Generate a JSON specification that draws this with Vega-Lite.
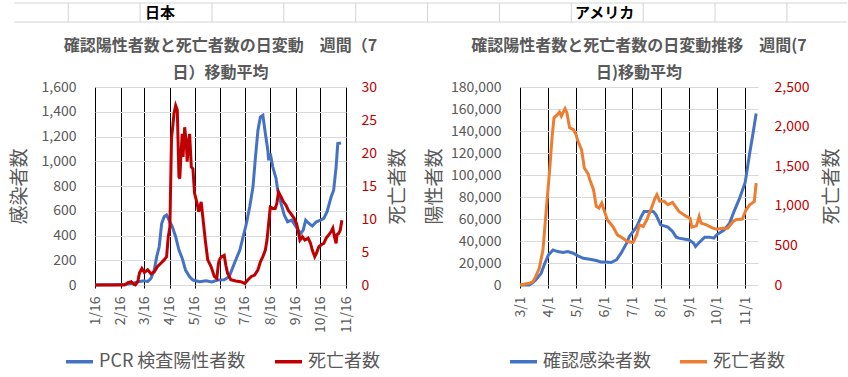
{
"$schema": "https://vega.github.io/schema/vega-lite/v6.json",
"background": "white",
"padding": {"left": 10, "top": 2, "right": 0, "bottom": 0},
"config": {
  "font": "Noto Sans CJK JP",
  "view": {"stroke": null},
  "axis": {"labelFont": "Noto Sans CJK JP", "titleFont": "Noto Sans CJK JP", "labelColor": "#595959", "labelFontSize": 14, "titleColor": "#595959", "titleFontSize": 19, "titleFontWeight": "normal", "domain": false, "ticks": false, "tickSize": 0},
  "axisX": {"labelOverlap": false, "labelAngle": 270, "labelBound": false, "labelFlush": false, "tickCount": 30},
  "title": {"font": "Noto Sans CJK JP", "fontSize": 16, "fontWeight": "bold", "color": "#595959", "lineHeight": 27},
  "legend": {"labelFont": "Noto Sans CJK JP", "labelFontSize": 18, "labelColor": "#595959", "symbolType": "stroke", "symbolStrokeWidth": 3.5, "symbolSize": 729, "columnPadding": 22, "labelOffset": 4, "title": null, "direction": "horizontal"}
},
"datasets": {
  "jpCases": [
    {"d":"2020/01/16","v":1},{"d":"2020/01/25","v":2},{"d":"2020/02/05","v":3},{"d":"2020/02/15","v":5},{"d":"2020/02/23","v":6},{"d":"2020/03/02","v":13},{"d":"2020/03/08","v":27},{"d":"2020/03/16","v":35},{"d":"2020/03/20","v":27},{"d":"2020/03/24","v":54},{"d":"2020/03/28","v":121},{"d":"2020/03/31","v":229},{"d":"2020/04/03","v":309},{"d":"2020/04/06","v":497},{"d":"2020/04/09","v":551},{"d":"2020/04/12","v":565},{"d":"2020/04/15","v":524},{"d":"2020/04/19","v":470},{"d":"2020/04/23","v":390},{"d":"2020/04/27","v":282},{"d":"2020/05/01","v":215},{"d":"2020/05/05","v":121},{"d":"2020/05/10","v":67},{"d":"2020/05/14","v":40},{"d":"2020/05/22","v":27},{"d":"2020/05/30","v":35},{"d":"2020/06/06","v":24},{"d":"2020/06/13","v":40},{"d":"2020/06/21","v":42},{"d":"2020/06/27","v":67},{"d":"2020/07/01","v":134},{"d":"2020/07/05","v":202},{"d":"2020/07/10","v":282},{"d":"2020/07/14","v":390},{"d":"2020/07/18","v":497},{"d":"2020/07/22","v":632},{"d":"2020/07/26","v":793},{"d":"2020/07/29","v":1035},{"d":"2020/08/01","v":1250},{"d":"2020/08/04","v":1358},{"d":"2020/08/07","v":1371},{"d":"2020/08/10","v":1224},{"d":"2020/08/13","v":1089},{"d":"2020/08/14","v":1008},{"d":"2020/08/16","v":1062},{"d":"2020/08/19","v":955},{"d":"2020/08/23","v":861},{"d":"2020/08/25","v":766},{"d":"2020/08/29","v":659},{"d":"2020/09/02","v":565},{"d":"2020/09/06","v":511},{"d":"2020/09/11","v":524},{"d":"2020/09/15","v":484},{"d":"2020/09/19","v":444},{"d":"2020/09/22","v":417},{"d":"2020/09/25","v":444},{"d":"2020/09/28","v":524},{"d":"2020/10/02","v":497},{"d":"2020/10/06","v":476},{"d":"2020/10/11","v":511},{"d":"2020/10/16","v":524},{"d":"2020/10/20","v":538},{"d":"2020/10/24","v":592},{"d":"2020/10/29","v":713},{"d":"2020/11/01","v":766},{"d":"2020/11/04","v":955},{"d":"2020/11/06","v":1143},{"d":"2020/11/10","v":1148}
  ],
  "jpDeaths": [
    {"d":"2020/01/16","v":0},{"d":"2020/02/16","v":0},{"d":"2020/02/21","v":0},{"d":"2020/02/25","v":0.35},{"d":"2020/02/29","v":0.5},{"d":"2020/03/03","v":0.1},{"d":"2020/03/05","v":0},{"d":"2020/03/08","v":0.5},{"d":"2020/03/10","v":1.8},{"d":"2020/03/13","v":2.5},{"d":"2020/03/16","v":1.9},{"d":"2020/03/20","v":2.3},{"d":"2020/03/24","v":1.7},{"d":"2020/03/28","v":2.0},{"d":"2020/04/01","v":2.8},{"d":"2020/04/05","v":3.3},{"d":"2020/04/09","v":3.8},{"d":"2020/04/12","v":4.3},{"d":"2020/04/14","v":7.3},{"d":"2020/04/16","v":8.8},{"d":"2020/04/18","v":22.4},{"d":"2020/04/19","v":23.4},{"d":"2020/04/21","v":26},{"d":"2020/04/23","v":27.2},{"d":"2020/04/25","v":26.5},{"d":"2020/04/27","v":16.4},{"d":"2020/04/28","v":16.1},{"d":"2020/04/30","v":20.9},{"d":"2020/05/01","v":22.9},{"d":"2020/05/02","v":19.4},{"d":"2020/05/04","v":23.9},{"d":"2020/05/06","v":21.4},{"d":"2020/05/07","v":18.7},{"d":"2020/05/09","v":21.9},{"d":"2020/05/10","v":22.9},{"d":"2020/05/12","v":17.9},{"d":"2020/05/14","v":17.6},{"d":"2020/05/16","v":13.9},{"d":"2020/05/19","v":12.4},{"d":"2020/05/21","v":11.1},{"d":"2020/05/24","v":12.6},{"d":"2020/05/26","v":10.3},{"d":"2020/05/29","v":6.8},{"d":"2020/06/01","v":3.8},{"d":"2020/06/05","v":2.8},{"d":"2020/06/09","v":1.3},{"d":"2020/06/12","v":1.0},{"d":"2020/06/14","v":3.3},{"d":"2020/06/16","v":4.0},{"d":"2020/06/18","v":4.3},{"d":"2020/06/21","v":4.5},{"d":"2020/06/23","v":3.0},{"d":"2020/06/25","v":1.8},{"d":"2020/06/29","v":0.8},{"d":"2020/07/05","v":0.6},{"d":"2020/07/11","v":0.5},{"d":"2020/07/16","v":0.25},{"d":"2020/07/20","v":0.8},{"d":"2020/07/24","v":1.3},{"d":"2020/07/28","v":1.5},{"d":"2020/08/01","v":2.3},{"d":"2020/08/04","v":3.5},{"d":"2020/08/07","v":4.3},{"d":"2020/08/10","v":5.3},{"d":"2020/08/12","v":6.8},{"d":"2020/08/14","v":9.3},{"d":"2020/08/16","v":11.8},{"d":"2020/08/19","v":11.6},{"d":"2020/08/22","v":11.6},{"d":"2020/08/24","v":12.4},{"d":"2020/08/26","v":14.1},{"d":"2020/08/29","v":13.4},{"d":"2020/09/01","v":12.6},{"d":"2020/09/04","v":12.1},{"d":"2020/09/07","v":11.3},{"d":"2020/09/10","v":10.8},{"d":"2020/09/14","v":10.1},{"d":"2020/09/17","v":9.3},{"d":"2020/09/19","v":8.1},{"d":"2020/09/21","v":6.8},{"d":"2020/09/24","v":7.3},{"d":"2020/09/27","v":6.8},{"d":"2020/10/01","v":7.1},{"d":"2020/10/04","v":6.3},{"d":"2020/10/06","v":5.3},{"d":"2020/10/09","v":4.3},{"d":"2020/10/11","v":4.8},{"d":"2020/10/14","v":5.8},{"d":"2020/10/17","v":6.1},{"d":"2020/10/20","v":6.3},{"d":"2020/10/23","v":7.1},{"d":"2020/10/26","v":7.6},{"d":"2020/10/29","v":8.1},{"d":"2020/10/31","v":8.6},{"d":"2020/11/02","v":7.3},{"d":"2020/11/04","v":6.3},{"d":"2020/11/05","v":7.6},{"d":"2020/11/07","v":7.8},{"d":"2020/11/09","v":8.3},{"d":"2020/11/11","v":9.8}
  ],
  "usCases": [
    {"d":"2020/03/01","v":0},{"d":"2020/03/11","v":0},{"d":"2020/03/15","v":2100},{"d":"2020/03/18","v":4600},{"d":"2020/03/24","v":10600},{"d":"2020/03/28","v":19800},{"d":"2020/04/01","v":27400},{"d":"2020/04/06","v":31900},{"d":"2020/04/11","v":30400},{"d":"2020/04/17","v":29500},{"d":"2020/04/22","v":30400},{"d":"2020/04/28","v":28900},{"d":"2020/05/03","v":26500},{"d":"2020/05/09","v":24300},{"d":"2020/05/16","v":23400},{"d":"2020/05/23","v":22200},{"d":"2020/05/28","v":21000},{"d":"2020/06/03","v":21000},{"d":"2020/06/08","v":20400},{"d":"2020/06/14","v":22800},{"d":"2020/06/19","v":28900},{"d":"2020/06/25","v":38000},{"d":"2020/06/28","v":44100},{"d":"2020/07/06","v":53000},{"d":"2020/07/11","v":62300},{"d":"2020/07/14","v":66900},{"d":"2020/07/24","v":66900},{"d":"2020/07/27","v":63800},{"d":"2020/08/01","v":54700},{"d":"2020/08/09","v":52600},{"d":"2020/08/14","v":48600},{"d":"2020/08/18","v":43500},{"d":"2020/08/21","v":42600},{"d":"2020/09/01","v":41000},{"d":"2020/09/06","v":38000},{"d":"2020/09/08","v":35000},{"d":"2020/09/12","v":38600},{"d":"2020/09/18","v":43500},{"d":"2020/09/23","v":43500},{"d":"2020/09/28","v":42600},{"d":"2020/10/01","v":45600},{"d":"2020/10/09","v":50000},{"d":"2020/10/15","v":56000},{"d":"2020/10/20","v":67000},{"d":"2020/10/26","v":79000},{"d":"2020/11/01","v":93000},{"d":"2020/11/06","v":120000},{"d":"2020/11/10","v":140000},{"d":"2020/11/13","v":156000}
  ],
  "usDeaths": [
    {"d":"2020/03/01","v":0},{"d":"2020/03/11","v":21},{"d":"2020/03/15","v":42},{"d":"2020/03/18","v":106},{"d":"2020/03/22","v":211},{"d":"2020/03/26","v":443},{"d":"2020/03/29","v":866},{"d":"2020/04/02","v":1415},{"d":"2020/04/05","v":1880},{"d":"2020/04/07","v":2111},{"d":"2020/04/11","v":2154},{"d":"2020/04/13","v":2183},{"d":"2020/04/15","v":2133},{"d":"2020/04/17","v":2183},{"d":"2020/04/19","v":2226},{"d":"2020/04/21","v":2175},{"d":"2020/04/24","v":1985},{"d":"2020/04/28","v":1964},{"d":"2020/05/01","v":1900},{"d":"2020/05/03","v":1816},{"d":"2020/05/07","v":1710},{"d":"2020/05/10","v":1478},{"d":"2020/05/14","v":1406},{"d":"2020/05/16","v":1330},{"d":"2020/05/20","v":1204},{"d":"2020/05/23","v":993},{"d":"2020/05/26","v":971},{"d":"2020/05/29","v":1035},{"d":"2020/06/01","v":929},{"d":"2020/06/04","v":823},{"d":"2020/06/10","v":739},{"d":"2020/06/15","v":633},{"d":"2020/06/21","v":591},{"d":"2020/06/26","v":549},{"d":"2020/07/02","v":536},{"d":"2020/07/06","v":633},{"d":"2020/07/09","v":760},{"d":"2020/07/13","v":739},{"d":"2020/07/17","v":823},{"d":"2020/07/22","v":971},{"d":"2020/07/26","v":1098},{"d":"2020/07/28","v":1140},{"d":"2020/07/31","v":1056},{"d":"2020/08/05","v":1056},{"d":"2020/08/09","v":1013},{"d":"2020/08/14","v":1043},{"d":"2020/08/21","v":929},{"d":"2020/08/29","v":866},{"d":"2020/09/02","v":845},{"d":"2020/09/04","v":731},{"d":"2020/09/09","v":747},{"d":"2020/09/12","v":866},{"d":"2020/09/14","v":781},{"d":"2020/09/20","v":760},{"d":"2020/09/23","v":739},{"d":"2020/09/27","v":718},{"d":"2020/10/01","v":705},{"d":"2020/10/08","v":718},{"d":"2020/10/13","v":718},{"d":"2020/10/19","v":802},{"d":"2020/10/22","v":823},{"d":"2020/10/29","v":832},{"d":"2020/11/02","v":950},{"d":"2020/11/06","v":1013},{"d":"2020/11/11","v":1056},{"d":"2020/11/13","v":1288}
  ]
},
"spacing": 15,
"vconcat": [
  {
    "width": 752, "height": 19,
    "layer": [
      {"data": {"values": [{"c":1},{"c":2},{"c":3},{"c":4},{"c":5},{"c":6},{"c":7},{"c":8},{"c":9},{"c":10},{"c":11}]},
       "mark": {"type": "rule", "color": "#d4d4d4", "strokeWidth": 1},
       "encoding": {"x": {"field": "c", "type": "quantitative", "scale": {"domain": [1.3727, 11.836], "nice": false, "zero": false}, "axis": null},
                    "y": {"datum": 0, "type": "quantitative", "scale": {"domain": [0, 1], "nice": false, "zero": false}, "axis": null},
                    "y2": {"datum": 1}}},
      {"data": {"values": [{"a": 0.25, "b": 11.836, "r": 0}, {"a": 0.25, "b": 11.836, "r": 1}]},
       "mark": {"type": "rule", "color": "#d4d4d4", "strokeWidth": 1},
       "encoding": {"x": {"field": "a", "type": "quantitative"}, "x2": {"field": "b"}, "y": {"field": "r", "type": "quantitative"}}},
      {"data": {"values": [{"c": 2.07, "t": "日本"}, {"c": 8.05, "t": "アメリカ"}]},
       "mark": {"type": "text", "align": "left", "baseline": "middle", "fontSize": 15, "fontWeight": "bold", "color": "black", "font": "Noto Sans CJK JP"},
       "encoding": {"x": {"field": "c", "type": "quantitative"}, "y": {"datum": 0.5, "type": "quantitative"}, "text": {"field": "t", "type": "nominal"}}}
    ]
  },
  {
    "spacing": 17,
    "resolve": {"scale": {"color": "independent"}},
    "hconcat": [
      {
        "width": 251, "height": 198,
        "title": {"text": ["確認陽性者数と死亡者数の日変動　週間（7", "日）移動平均"], "offset": -1},
        "resolve": {"scale": {"y": "independent"}},
        "layer": [
          {"data": {"name": "jpCases"},
           "mark": {"type": "line", "strokeWidth": 3},
           "encoding": {
             "x": {"field": "d", "type": "temporal",
                   "scale": {"domain": [{"year": 2020, "month": 1, "date": 16}, {"year": 2020, "month": 11, "date": 16}]},
                   "axis": {"title": null, "format": "%-m/%-d", "tickCount": 30, "grid": true, "gridColor": "black", "gridWidth": 1, "gridOpacity": 1, "ticks": true, "tickColor": "black", "tickSize": 3, "labelPadding": 8,
                            "values": [{"year":2020,"month":1,"date":16},{"year":2020,"month":2,"date":16},{"year":2020,"month":3,"date":16},{"year":2020,"month":4,"date":16},{"year":2020,"month":5,"date":16},{"year":2020,"month":6,"date":16},{"year":2020,"month":7,"date":16},{"year":2020,"month":8,"date":16},{"year":2020,"month":9,"date":16},{"year":2020,"month":10,"date":16},{"year":2020,"month":11,"date":16}]}},
             "y": {"field": "v", "type": "quantitative", "scale": {"domain": [0, 1600]},
                   "axis": {"title": "感染者数", "values": [0,200,400,600,800,1000,1200,1400,1600], "format": ",d", "grid": true, "gridColor": "#d9d9d9", "labelPadding": 19, "titlePadding": 12}},
             "color": {"datum": "PCR 検査陽性者数", "type": "nominal",
                       "scale": {"domain": ["PCR 検査陽性者数", "死亡者数"], "range": ["#4472C4", "#C00000"]},
                       "legend": {"orient": "none", "legendX": -31, "legendY": 259}}
           }},
          {"data": {"name": "jpDeaths"},
           "mark": {"type": "line", "strokeWidth": 3},
           "encoding": {
             "x": {"field": "d", "type": "temporal"},
             "y": {"field": "v", "type": "quantitative", "scale": {"domain": [0, 30]},
                   "axis": {"orient": "right", "title": "死亡者数", "values": [0,5,10,15,20,25,30], "format": "d", "labelColor": "#C00000", "grid": false, "labelPadding": 15, "titlePadding": 31, "titleAngle": 270}},
             "color": {"datum": "死亡者数", "type": "nominal"}
           }}
        ]
      },
      {
        "width": 238, "height": 198,
        "title": {"text": ["確認陽性者数と死亡者数の日変動推移　週間(7", "日)移動平均"], "offset": -1},
        "resolve": {"scale": {"y": "independent"}},
        "layer": [
          {"data": {"name": "usCases"},
           "mark": {"type": "line", "strokeWidth": 3},
           "encoding": {
             "x": {"field": "d", "type": "temporal",
                   "scale": {"domain": [{"year": 2020, "month": 3, "date": 1}, {"year": 2020, "month": 11, "date": 15}]},
                   "axis": {"title": null, "format": "%-m/%-d", "tickCount": 30, "grid": true, "gridColor": "black", "gridWidth": 1, "gridOpacity": 1, "ticks": true, "tickColor": "black", "tickSize": 3, "labelPadding": 8,
                            "values": [{"year":2020,"month":3,"date":1},{"year":2020,"month":4,"date":1},{"year":2020,"month":5,"date":1},{"year":2020,"month":6,"date":1},{"year":2020,"month":7,"date":1},{"year":2020,"month":8,"date":1},{"year":2020,"month":9,"date":1},{"year":2020,"month":10,"date":1},{"year":2020,"month":11,"date":1}]}},
             "y": {"field": "v", "type": "quantitative", "scale": {"domain": [0, 180000]},
                   "axis": {"title": "陽性者数", "values": [0,20000,40000,60000,80000,100000,120000,140000,160000,180000], "format": ",d", "grid": true, "gridColor": "#d9d9d9", "labelPadding": 19, "titlePadding": 6}},
             "color": {"datum": "確認感染者数", "type": "nominal",
                       "scale": {"domain": ["確認感染者数", "死亡者数"], "range": ["#4472C4", "#ED7D31"]},
                       "legend": {"orient": "none", "legendX": -12, "legendY": 259}}
           }},
          {"data": {"name": "usDeaths"},
           "mark": {"type": "line", "strokeWidth": 3},
           "encoding": {
             "x": {"field": "d", "type": "temporal"},
             "y": {"field": "v", "type": "quantitative", "scale": {"domain": [0, 2500]},
                   "axis": {"orient": "right", "title": "死亡者数", "values": [0,500,1000,1500,2000,2500], "format": ",d", "labelColor": "#C00000", "grid": false, "labelPadding": 16, "titlePadding": 33, "titleAngle": 270}},
             "color": {"datum": "死亡者数", "type": "nominal"}
           }}
        ]
      }
    ]
  }
]
}
